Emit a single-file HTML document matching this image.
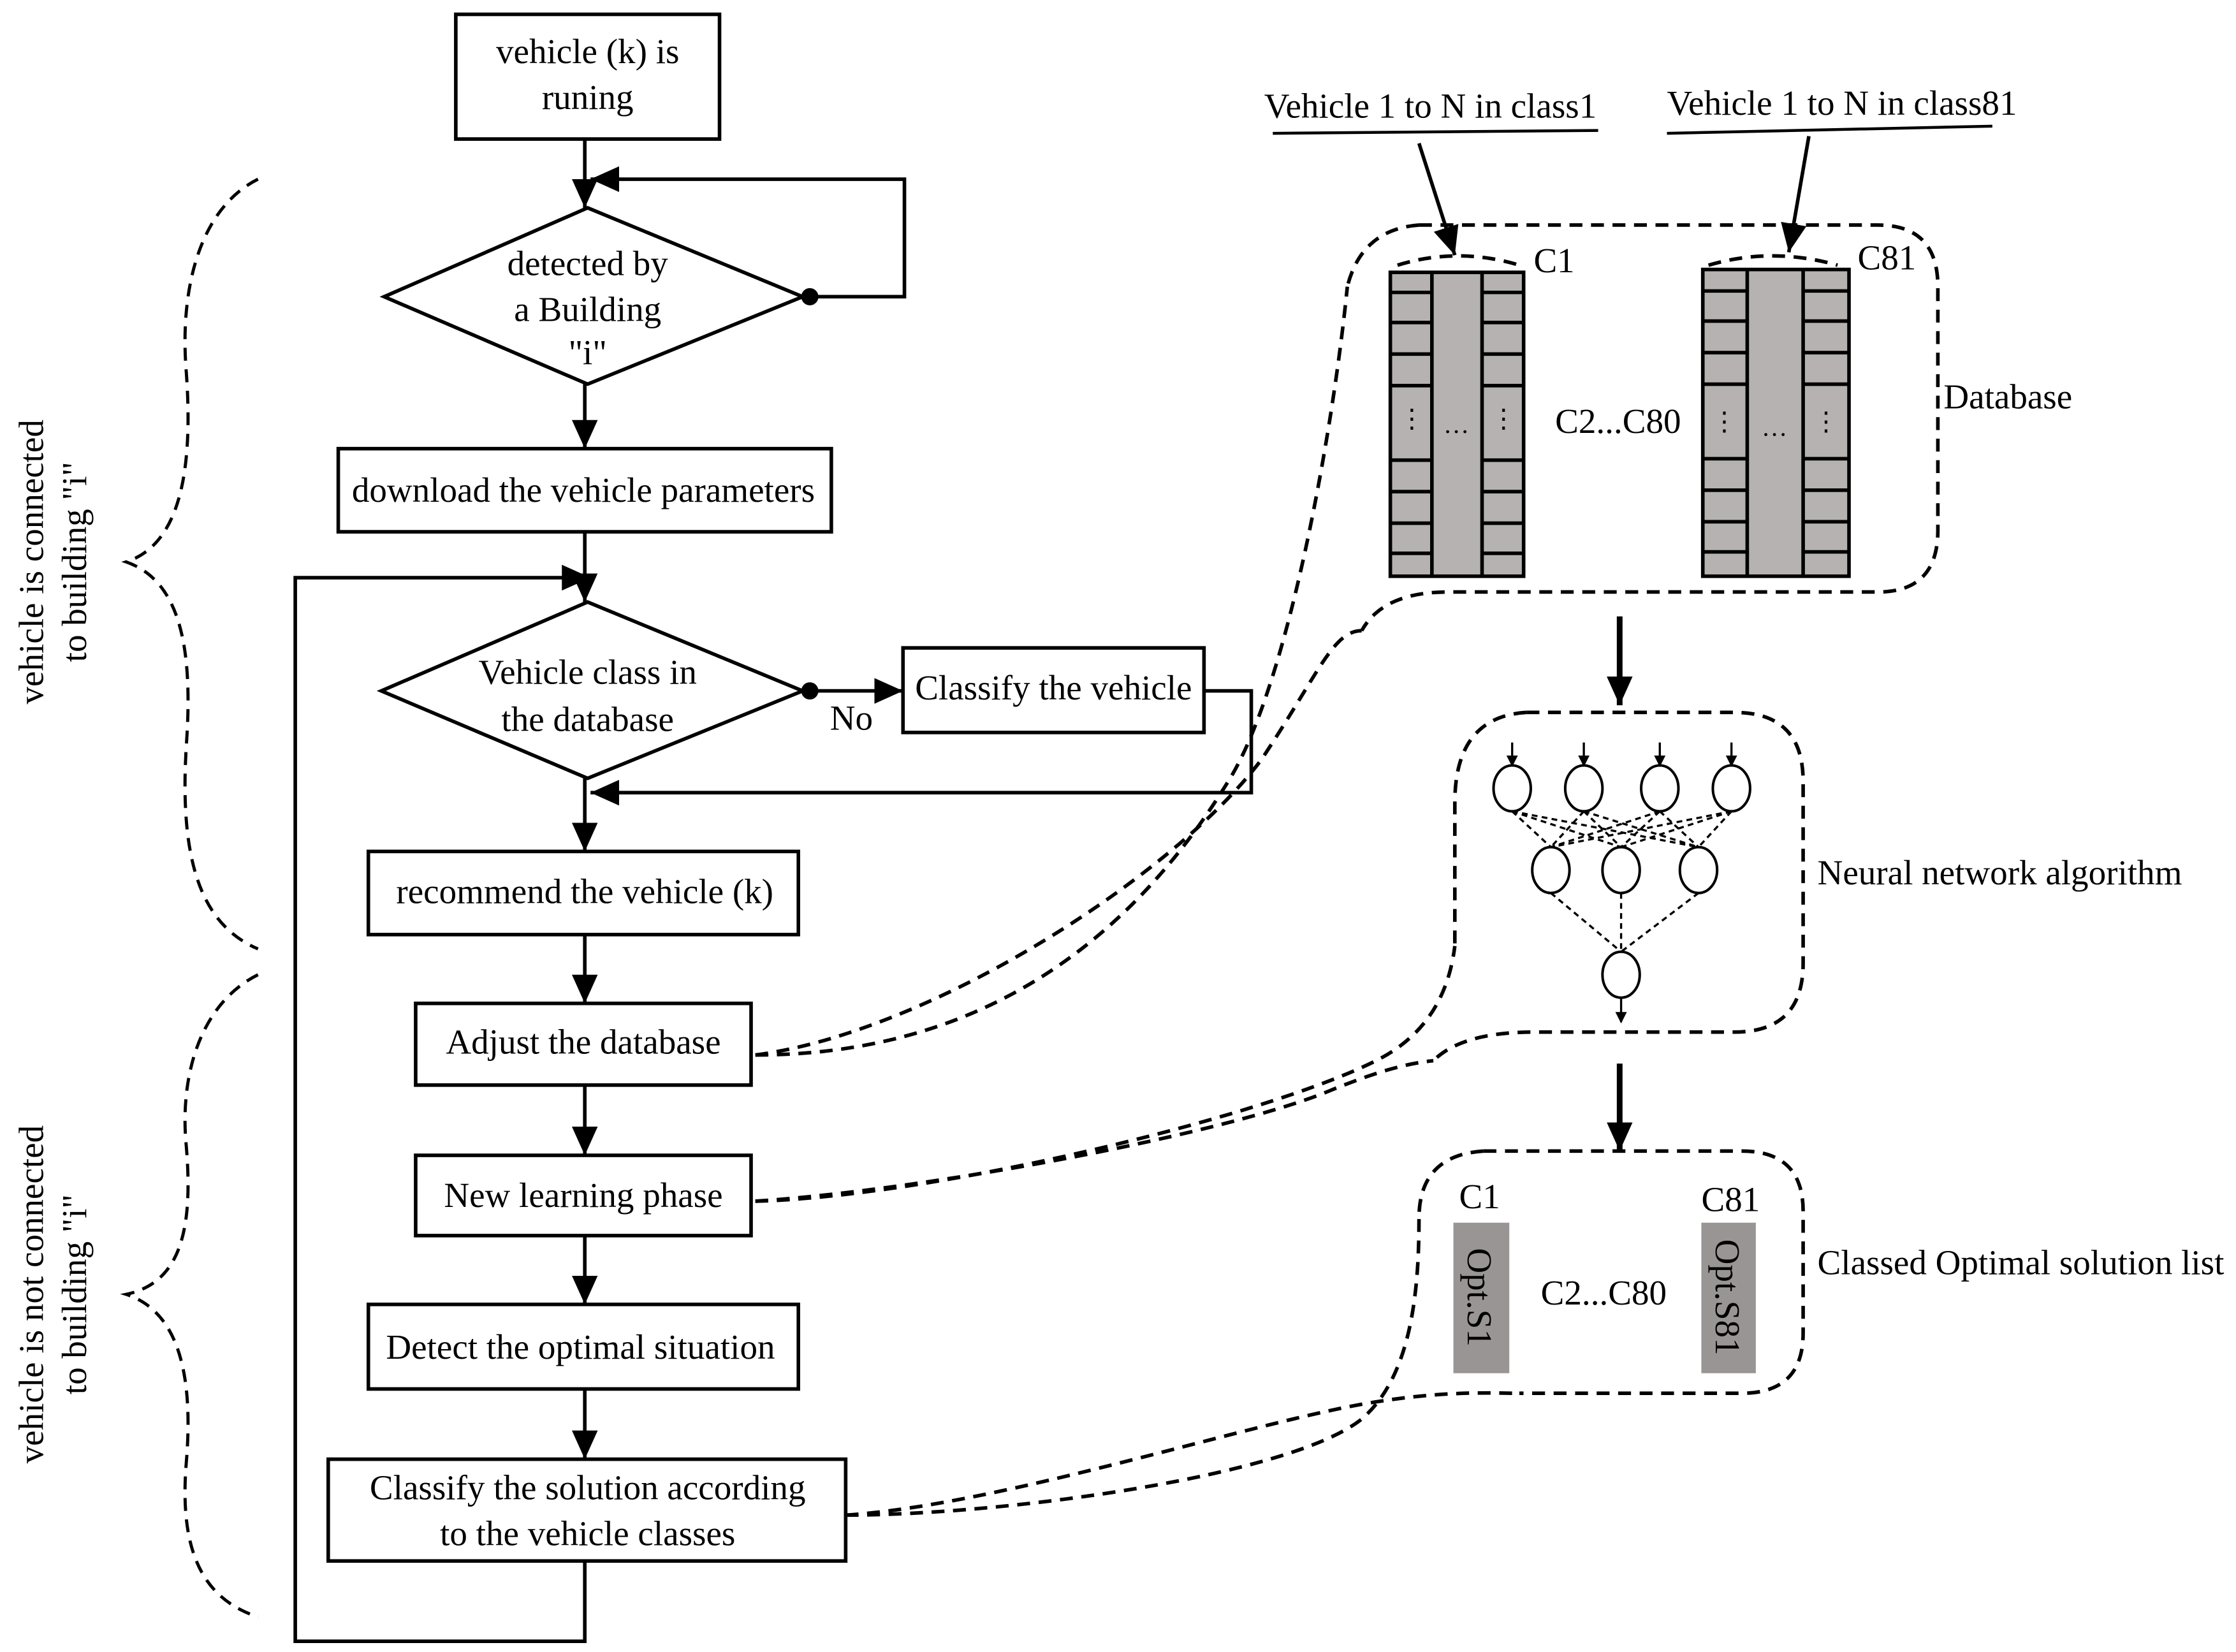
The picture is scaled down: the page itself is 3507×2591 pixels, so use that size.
<!DOCTYPE html>
<html><head><meta charset="utf-8"><style>
html,body{margin:0;padding:0;background:#fff}
svg{display:block}
text{font-family:"Liberation Serif",serif;font-size:24.5px;fill:#000}
</style></head><body>
<svg width="3507" height="2591" viewBox="0 0 1560 1152.5" preserveAspectRatio="none" xmlns="http://www.w3.org/2000/svg">
<defs>
<marker id="ab" markerWidth="22" markerHeight="22" refX="20" refY="11" orient="auto" markerUnits="userSpaceOnUse"><path d="M0,2 L20,11 L0,20 z"/></marker>
<marker id="as" markerWidth="8" markerHeight="8" refX="7" refY="4" orient="auto" markerUnits="userSpaceOnUse"><path d="M0,0 L8,4 L0,8 z"/></marker>
</defs>
<g fill="none" stroke="#000" stroke-width="2.5">
<rect x="318" y="10" width="184" height="87"/>
<polygon points="410,145 560,207 410,268 268,207"/>
<rect x="236" y="313" width="344" height="58"/>
<polygon points="410,420 560,482 410,543 266,482"/>
<rect x="630" y="452" width="210" height="59"/>
<rect x="257" y="594" width="300" height="58"/>
<rect x="290" y="700" width="234" height="57"/>
<rect x="290" y="806" width="234" height="56"/>
<rect x="257" y="910" width="300" height="59"/>
<rect x="229" y="1018" width="361" height="71"/>
<g marker-end="url(#ab)">
<line x1="408" y1="97" x2="408" y2="145"/>
<polyline points="565,207 631,207 631,125 412,125"/>
<line x1="408" y1="268" x2="408" y2="313"/>
<line x1="408" y1="371" x2="408" y2="420"/>
<polyline points="408,1089 408,1145 206,1145 206,403 412,403"/>
<line x1="565" y1="482" x2="630" y2="482"/>
<polyline points="840,482 873,482 873,553 412,553"/>
<line x1="408" y1="543" x2="408" y2="594"/>
<line x1="408" y1="652" x2="408" y2="700"/>
<line x1="408" y1="757" x2="408" y2="806"/>
<line x1="408" y1="862" x2="408" y2="910"/>
<line x1="408" y1="969" x2="408" y2="1018"/>
</g>
</g>
<circle cx="565" cy="207" r="6"/><circle cx="565" cy="482" r="6"/>
<g text-anchor="middle">
<text x="410" y="44">vehicle (k) is</text><text x="410" y="76">runing</text>
<text x="410" y="192">detected by</text><text x="410" y="224">a Building</text><text x="410" y="254">"i"</text>
<text x="407" y="350">download the vehicle parameters</text>
<text x="410" y="477">Vehicle class in</text><text x="410" y="510">the database</text>
<text x="594" y="509">No</text>
<text x="735" y="488">Classify the vehicle</text>
<text x="408" y="630">recommend the vehicle (k)</text>
<text x="407" y="735">Adjust the database</text>
<text x="407" y="842">New learning phase</text>
<text x="405" y="948">Detect the optimal situation</text>
<text x="410" y="1046">Classify the solution according</text><text x="410" y="1078">to the vehicle classes</text>
</g>
<g fill="none" stroke="#000" stroke-width="2.2" stroke-dasharray="9,6">
<path d="M180,125 C140,145 125,200 130,260 C135,330 125,380 88,392 C125,405 135,450 130,520 C125,600 140,645 180,662"/>
<path d="M180,680 C140,700 125,750 130,800 C135,860 125,895 88,903 C125,915 135,960 130,1020 C125,1080 140,1115 180,1128"/>
</g>
<text transform="translate(30,392) rotate(-90)" text-anchor="middle">vehicle is  connected</text>
<text transform="translate(60,392) rotate(-90)" text-anchor="middle">to building "i"</text>
<text transform="translate(30,903) rotate(-90)" text-anchor="middle">vehicle is not connected</text>
<text transform="translate(60,903) rotate(-90)" text-anchor="middle">to  building "i"</text>
<text x="882" y="82">Vehicle 1 to N in class1</text>
<text x="1163" y="80">Vehicle 1 to N in class81</text>
<g stroke="#000" stroke-width="2" fill="none">
<line x1="888" y1="93" x2="1115" y2="91"/>
<line x1="1163" y1="93" x2="1390" y2="88"/>
<line x1="990" y1="100" x2="1015" y2="178" marker-end="url(#ab)" stroke-width="2.5"/>
<line x1="1262" y1="95" x2="1248" y2="176" marker-end="url(#ab)" stroke-width="2.5"/>
<line x1="1130" y1="430" x2="1130" y2="492" marker-end="url(#ab)" stroke-width="4"/>
<line x1="1130" y1="742" x2="1130" y2="803" marker-end="url(#ab)" stroke-width="4"/>
</g>
<g fill="none" stroke="#000" stroke-width="2.5" stroke-dasharray="9,6">
<path d="M990,157 L1310,157 Q1352,157 1352,200 L1352,370 Q1352,413 1310,413 L1010,413 Q965,413 950,440"/>
<path d="M990,157 Q950,160 940,200"/>
<path d="M975,185 Q1017,172 1060,185"/>
<path d="M1192,185 Q1236,172 1282,185"/>
<path d="M1065,497 L1210,497 Q1258,497 1258,545 L1258,672 Q1258,720 1210,720 L1070,720 Q1020,720 1000,740"/>
<path d="M1065,497 Q1015,500 1015,560 L1015,660"/>
<path d="M1035,803 L1215,803 Q1258,803 1258,845 L1258,930 Q1258,972 1215,972 L1060,972"/>
<path d="M1035,803 Q990,806 990,850"/>
<path d="M527,736 C700,736 800,640 860,540 C900,470 930,300 940,200"/>
<path d="M527,736 C650,720 820,610 880,530 C920,470 930,440 950,440"/>
<path d="M527,838 C650,835 880,780 960,740 C990,725 1010,700 1015,660"/>
<path d="M527,838 C650,830 860,790 930,760 C960,748 980,742 1000,740"/>
<path d="M590,1057 C700,1057 900,1030 950,990 C985,960 990,900 990,850"/>
<path d="M590,1057 C700,1050 880,990 960,978 C1010,970 1040,972 1060,972"/>
</g>
<g stroke="#000" stroke-width="2.5" fill="#b5b2b1">
<rect x="970" y="190" width="93" height="212"/>
<rect x="1188" y="188" width="102" height="214"/>
</g>
<g stroke="#000" stroke-width="2.5">
<line x1="999" y1="190" x2="999" y2="402"/><line x1="1034" y1="190" x2="1034" y2="402"/>
<line x1="1219" y1="188" x2="1219" y2="402"/><line x1="1258" y1="188" x2="1258" y2="402"/>
<g>
<line x1="970" y1="204" x2="999" y2="204"/><line x1="1034" y1="204" x2="1063" y2="204"/>
<line x1="970" y1="225" x2="999" y2="225"/><line x1="1034" y1="225" x2="1063" y2="225"/>
<line x1="970" y1="247" x2="999" y2="247"/><line x1="1034" y1="247" x2="1063" y2="247"/>
<line x1="970" y1="269" x2="999" y2="269"/><line x1="1034" y1="269" x2="1063" y2="269"/>
<line x1="970" y1="321" x2="999" y2="321"/><line x1="1034" y1="321" x2="1063" y2="321"/>
<line x1="970" y1="343" x2="999" y2="343"/><line x1="1034" y1="343" x2="1063" y2="343"/>
<line x1="970" y1="365" x2="999" y2="365"/><line x1="1034" y1="365" x2="1063" y2="365"/>
<line x1="970" y1="386" x2="999" y2="386"/><line x1="1034" y1="386" x2="1063" y2="386"/>
</g>
<g transform="translate(218,-1)">
<line x1="970" y1="204" x2="1001" y2="204"/><line x1="1040" y1="204" x2="1072" y2="204"/>
<line x1="970" y1="225" x2="1001" y2="225"/><line x1="1040" y1="225" x2="1072" y2="225"/>
<line x1="970" y1="247" x2="1001" y2="247"/><line x1="1040" y1="247" x2="1072" y2="247"/>
<line x1="970" y1="269" x2="1001" y2="269"/><line x1="1040" y1="269" x2="1072" y2="269"/>
<line x1="970" y1="321" x2="1001" y2="321"/><line x1="1040" y1="321" x2="1072" y2="321"/>
<line x1="970" y1="343" x2="1001" y2="343"/><line x1="1040" y1="343" x2="1072" y2="343"/>
<line x1="970" y1="365" x2="1001" y2="365"/><line x1="1040" y1="365" x2="1072" y2="365"/>
<line x1="970" y1="386" x2="1001" y2="386"/><line x1="1040" y1="386" x2="1072" y2="386"/>
</g>
</g>
<g text-anchor="middle" style="font-size:18px">
<text x="985" y="298" style="font-size:18px">⋮</text><text x="1049" y="298" style="font-size:18px">⋮</text><text x="1016" y="302" style="font-size:18px">…</text>
<text x="1203" y="300" style="font-size:18px">⋮</text><text x="1274" y="300" style="font-size:18px">⋮</text><text x="1238" y="304" style="font-size:18px">…</text>
</g>
<text x="1070" y="190">C1</text><text x="1296" y="188">C81</text>
<text x="1085" y="302">C2...C80</text><text x="1356" y="285">Database</text>
<g fill="none" stroke="#000" stroke-width="1.5" stroke-dasharray="4,3">
<line x1="1055" y1="566" x2="1082" y2="591"/><line x1="1055" y1="566" x2="1131" y2="591"/><line x1="1055" y1="566" x2="1185" y2="591"/>
<line x1="1105" y1="566" x2="1082" y2="591"/><line x1="1105" y1="566" x2="1131" y2="591"/><line x1="1105" y1="566" x2="1185" y2="591"/>
<line x1="1158" y1="566" x2="1082" y2="591"/><line x1="1158" y1="566" x2="1131" y2="591"/><line x1="1158" y1="566" x2="1185" y2="591"/>
<line x1="1208" y1="566" x2="1082" y2="591"/><line x1="1208" y1="566" x2="1131" y2="591"/><line x1="1208" y1="566" x2="1185" y2="591"/>
<line x1="1082" y1="623" x2="1131" y2="664"/><line x1="1131" y1="623" x2="1131" y2="664"/><line x1="1185" y1="623" x2="1131" y2="664"/>
</g>
<g fill="#fff" stroke="#000" stroke-width="1.8">
<ellipse cx="1055" cy="550" rx="13" ry="16"/><ellipse cx="1105" cy="550" rx="13" ry="16"/>
<ellipse cx="1158" cy="550" rx="13" ry="16"/><ellipse cx="1208" cy="550" rx="13" ry="16"/>
<ellipse cx="1082" cy="607" rx="13" ry="16"/><ellipse cx="1131" cy="607" rx="13" ry="16"/><ellipse cx="1185" cy="607" rx="13" ry="16"/>
<ellipse cx="1131" cy="680" rx="13" ry="16"/>
</g>
<g stroke="#000" stroke-width="1.5" marker-end="url(#as)">
<line x1="1055" y1="518" x2="1055" y2="534"/><line x1="1105" y1="518" x2="1105" y2="534"/>
<line x1="1158" y1="518" x2="1158" y2="534"/><line x1="1208" y1="518" x2="1208" y2="534"/>
<line x1="1131" y1="696" x2="1131" y2="713"/>
</g>
<text x="1268" y="617">Neural network algorithm</text>
<rect x="1014" y="853" width="39" height="105" fill="#999594"/>
<rect x="1187" y="853" width="38" height="105" fill="#999594"/>
<text transform="translate(1024,905) rotate(90)" text-anchor="middle">Opt.S1</text>
<text transform="translate(1197,905) rotate(90)" text-anchor="middle">Opt.S81</text>
<text x="1018" y="843">C1</text><text x="1187" y="845">C81</text>
<text x="1075" y="910">C2...C80</text>
<text x="1268" y="889">Classed Optimal solution list</text>
</svg>
</body></html>
